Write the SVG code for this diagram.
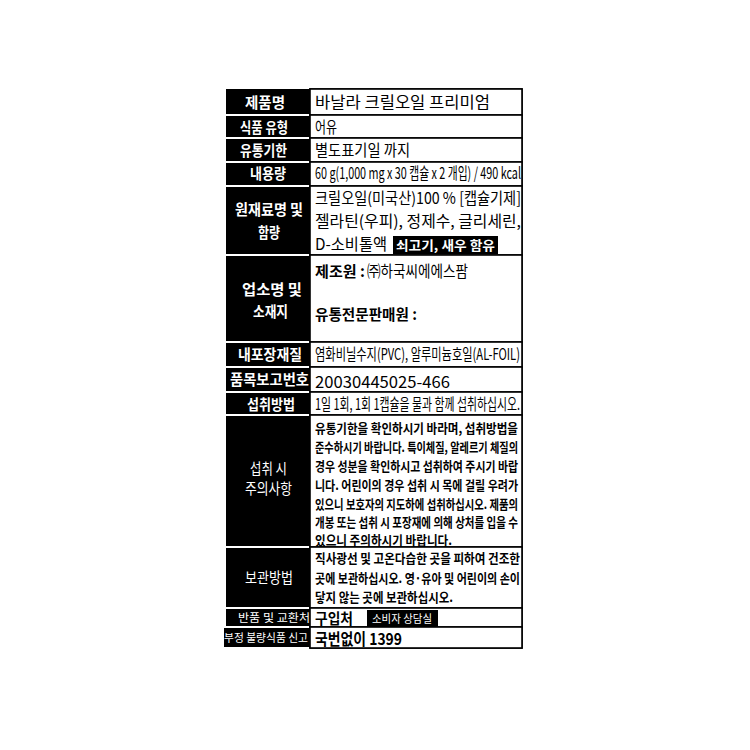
<svg xmlns="http://www.w3.org/2000/svg" width="750" height="750" viewBox="0 0 750 750">
<style>
.lab{fill:#000}
.cell{fill:#fff;stroke:#000;stroke-width:1.6}
.lt{fill:#fff;font-family:"Noto Sans CJK KR","Noto Sans",sans-serif;font-weight:bold;font-size:15px}
.ln{fill:#fff;font-family:"Noto Sans CJK KR","Noto Sans",sans-serif;font-weight:normal;font-size:15px}
.ls{fill:#fff;font-family:"Noto Sans CJK KR","Noto Sans",sans-serif;font-weight:normal;font-size:11px}
.c{fill:#000;font-family:"Noto Sans CJK KR","Noto Sans",sans-serif;font-size:16px}
.cb{fill:#000;font-family:"Noto Sans CJK KR","Noto Sans",sans-serif;font-size:15px;font-weight:bold}
.p{fill:#000;font-family:"Noto Sans CJK KR","Noto Sans",sans-serif;font-size:13px;font-weight:bold}
.tag{fill:#000}
.tt{fill:#fff;font-family:"Noto Sans CJK KR","Noto Sans",sans-serif;font-weight:bold;font-size:13px}
</style>
<rect x="0" y="0" width="750" height="750" fill="#fff"/>

<g id="connectors">
<rect x="310" y="89" width="212" height="559" fill="none" stroke="#000" stroke-width="1.6"/>
</g>

<g id="row-name">
<rect class="lab" x="226" y="89" width="84" height="25"/>
<rect class="cell" x="310" y="89" width="212" height="26"/>
<text class="lt" x="245" y="108" textLength="40" lengthAdjust="spacingAndGlyphs">제품명</text>
<text class="c" x="315" y="108" font-size="18" textLength="175" lengthAdjust="spacingAndGlyphs">바날라 크릴오일 프리미엄</text>
</g>

<g id="row-type">
<rect class="lab" x="226" y="116" width="84" height="21"/>
<rect class="cell" x="310" y="115" width="212" height="23"/>
<text class="lt" x="240" y="133" textLength="48" lengthAdjust="spacingAndGlyphs">식품 유형</text>
<text class="c" x="315" y="133" font-size="17" textLength="22" lengthAdjust="spacingAndGlyphs">어유</text>
</g>

<g id="row-expiry">
<rect class="lab" x="226" y="139" width="84" height="22"/>
<rect class="cell" x="310" y="138" width="212" height="24"/>
<text class="lt" x="240" y="156" textLength="47" lengthAdjust="spacingAndGlyphs">유통기한</text>
<text class="c" x="315" y="156" font-size="17" textLength="95" lengthAdjust="spacingAndGlyphs">별도표기일 까지</text>
</g>

<g id="row-content">
<rect class="lab" x="226" y="163" width="84" height="22"/>
<rect class="cell" x="310" y="162" width="212" height="24"/>
<text class="lt" x="250" y="179" textLength="36" lengthAdjust="spacingAndGlyphs">내용량</text>
<text class="c" x="315" y="179" font-size="15" textLength="206" lengthAdjust="spacingAndGlyphs">60 g(1,000 mg x 30 캡슐 x 2 개입) / 490 kcal</text>
</g>

<g id="row-ingredients">
<rect class="lab" x="226" y="187" width="84" height="67"/>
<rect class="cell" x="310" y="186" width="212" height="69"/>
<text class="lt" x="235" y="215" textLength="68" lengthAdjust="spacingAndGlyphs">원재료명 및</text>
<text class="lt" x="258" y="238" textLength="22" lengthAdjust="spacingAndGlyphs">함량</text>
<text class="c" x="315" y="204" textLength="206" lengthAdjust="spacingAndGlyphs">크릴오일(미국산)100 % [캡슐기제]</text>
<text class="c" x="315" y="227" textLength="206" lengthAdjust="spacingAndGlyphs">젤라틴(우피), 정제수, 글리세린,</text>
<text class="c" x="315" y="250" textLength="72" lengthAdjust="spacingAndGlyphs">D-소비톨액</text>
<rect class="tag" x="393" y="236" width="105" height="18"/>
<text class="tt" x="396" y="250" textLength="99" lengthAdjust="spacingAndGlyphs">쇠고기, 새우 함유</text>
</g>

<g id="row-company">
<rect class="lab" x="226" y="256" width="84" height="85"/>
<rect class="cell" x="310" y="255" width="212" height="87"/>
<text class="lt" x="242" y="295" textLength="60" lengthAdjust="spacingAndGlyphs">업소명 및</text>
<text class="lt" x="253" y="317" textLength="35" lengthAdjust="spacingAndGlyphs">소재지</text>
<text class="cb" x="315" y="277" font-size="14" textLength="50" lengthAdjust="spacingAndGlyphs">제조원 :</text>
<text class="c" x="367" y="277" font-size="14" textLength="101" lengthAdjust="spacingAndGlyphs">㈜하국씨에에스팜</text>
<text class="cb" x="315" y="320" font-size="16" textLength="102" lengthAdjust="spacingAndGlyphs">유통전문판매원 :</text>
</g>

<g id="row-packaging">
<rect class="lab" x="226" y="343" width="84" height="23"/>
<rect class="cell" x="310" y="342" width="212" height="25"/>
<text class="lt" x="238" y="360" textLength="64" lengthAdjust="spacingAndGlyphs">내포장재질</text>
<text class="c" x="315" y="360" font-size="14" textLength="205" lengthAdjust="spacingAndGlyphs">염화비닐수지(PVC), 알루미늄호일(AL-FOIL)</text>
</g>

<g id="row-report">
<rect class="lab" x="226" y="368" width="84" height="23"/>
<rect class="cell" x="310" y="367" width="212" height="25"/>
<text class="lt" x="230" y="385" textLength="79" lengthAdjust="spacingAndGlyphs">품목보고번호</text>
<text class="c" x="315" y="388" font-size="19" textLength="135" lengthAdjust="spacingAndGlyphs">20030445025-466</text>
</g>

<g id="row-intake">
<rect class="lab" x="226" y="393" width="84" height="21"/>
<rect class="cell" x="310" y="392" width="212" height="23"/>
<text class="lt" x="247" y="410" textLength="48" lengthAdjust="spacingAndGlyphs">섭취방법</text>
<text class="c" x="315" y="410" font-size="14" textLength="205" lengthAdjust="spacingAndGlyphs">1일 1회, 1회 1캡슐을 물과 함께 섭취하십시오.</text>
</g>

<g id="row-caution">
<rect class="lab" x="226" y="416" width="84" height="130"/>
<rect class="cell" x="310" y="415" width="212" height="132"/>
<text class="ln" x="250" y="474" textLength="37" lengthAdjust="spacingAndGlyphs">섭취 시</text>
<text class="ln" x="245" y="494" textLength="47" lengthAdjust="spacingAndGlyphs">주의사항</text>
<text class="p" x="315" y="433" textLength="203" lengthAdjust="spacingAndGlyphs">유통기한을 확인하시기 바라며, 섭취방법을</text>
<text class="p" x="315" y="452" textLength="203" lengthAdjust="spacingAndGlyphs">준수하시기 바랍니다. 특이체질, 알레르기 체질의</text>
<text class="p" x="315" y="471" textLength="203" lengthAdjust="spacingAndGlyphs">경우 성분을 확인하시고 섭취하여 주시기 바랍</text>
<text class="p" x="315" y="490" textLength="203" lengthAdjust="spacingAndGlyphs">니다. 어린이의 경우 섭취 시 목에 걸릴 우려가</text>
<text class="p" x="315" y="509" textLength="203" lengthAdjust="spacingAndGlyphs">있으니 보호자의 지도하에 섭취하십시오. 제품의</text>
<text class="p" x="315" y="527" textLength="203" lengthAdjust="spacingAndGlyphs">개봉 또는 섭취 시 포장재에 의해 상처를 입을 수</text>
<text class="p" x="315" y="545" textLength="137" lengthAdjust="spacingAndGlyphs">있으니 주의하시기 바랍니다.</text>
</g>

<g id="row-storage">
<rect class="lab" x="226" y="548" width="84" height="59"/>
<rect class="cell" x="310" y="547" width="212" height="61"/>
<text class="ln" x="245" y="583" textLength="48" lengthAdjust="spacingAndGlyphs">보관방법</text>
<text class="p" x="315" y="563" textLength="205" lengthAdjust="spacingAndGlyphs">직사광선 및 고온다습한 곳을 피하여 건조한</text>
<text class="p" x="315" y="583" textLength="205" lengthAdjust="spacingAndGlyphs">곳에 보관하십시오. 영·유아 및 어린이의 손이</text>
<text class="p" x="315" y="602" textLength="138" lengthAdjust="spacingAndGlyphs">닿지 않는 곳에 보관하십시오.</text>
</g>

<g id="row-return">
<rect class="lab" x="226" y="609" width="84" height="17"/>
<rect class="cell" x="310" y="608" width="212" height="19"/>
<text class="ls" x="238" y="622" textLength="72" lengthAdjust="spacingAndGlyphs">반품 및 교환처</text>
<text class="cb" x="315" y="624" font-size="15" textLength="38" lengthAdjust="spacingAndGlyphs">구입처</text>
<rect class="tag" x="367" y="610" width="71" height="17"/>
<text class="ls" x="372" y="623" font-size="12" textLength="60" lengthAdjust="spacingAndGlyphs">소비자 상담실</text>
</g>

<g id="row-report-bad">
<rect class="lab" x="224" y="628" width="86" height="19"/>
<rect class="cell" x="310" y="627" width="212" height="21"/>
<text class="ls" x="224" y="642" textLength="84" lengthAdjust="spacingAndGlyphs">부정 불량식품 신고</text>
<text class="c" x="315" y="645" font-size="16" font-weight="bold" textLength="87" lengthAdjust="spacingAndGlyphs">국번없이 1399</text>
</g>
</svg>
